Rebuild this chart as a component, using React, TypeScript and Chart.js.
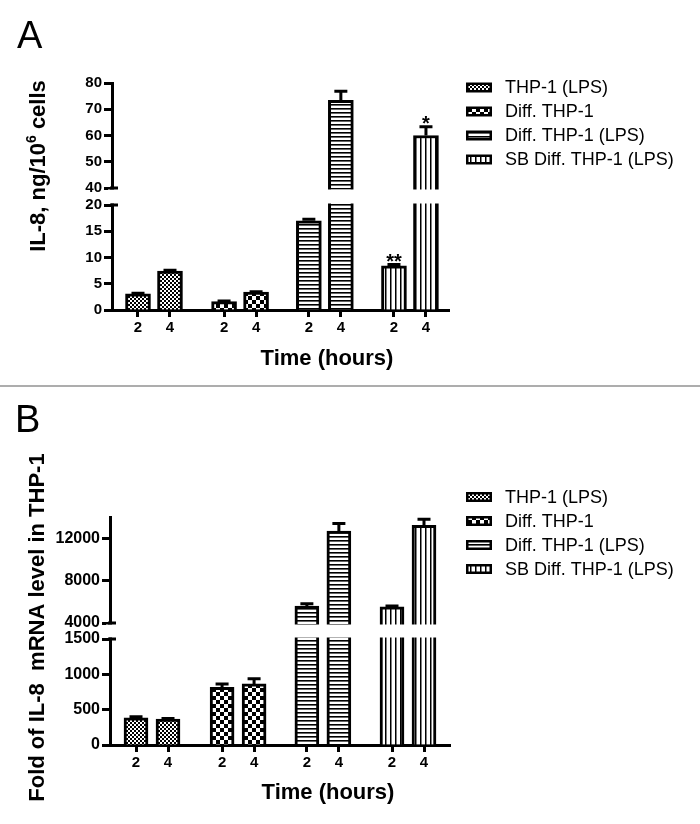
import React, { useEffect, useRef } from "react";
import { Chart, registerables, LinearScale } from "chart.js";

Chart.register(...registerables);

const FONT = "'Liberation Sans', Arial, Helvetica, sans-serif";

// ---------------- data ----------------
const SERIES_LABELS = ["THP-1 (LPS)", "Diff. THP-1", "Diff. THP-1 (LPS)", "SB Diff. THP-1 (LPS)"];
const TIME_LABELS = ["2", "4"];

// Panel A: IL-8, ng/10^6 cells (2 h, 4 h)
const A_THP1_LPS = [3.1, 7.4];
const A_DIFF = [1.6, 3.4];
const A_DIFF_LPS = [17.0, 73.4];
const A_SB_DIFF_LPS = [8.4, 60.0];
const A_ERR_THP1_LPS = [0.1, 0.15];
const A_ERR_DIFF = [0.1, 0.1];
const A_ERR_DIFF_LPS = [0.3, 3.5];
const A_ERR_SB_DIFF_LPS = [0.25, 3.3];
const A_SIG_SB_DIFF_LPS = ["**", "*"];
const A_Y_TICKS = [0, 5, 10, 15, 20, 40, 50, 60, 70, 80];

// Panel B: fold of IL-8 mRNA level in THP-1 (2 h, 4 h)
const B_THP1_LPS = [385, 366];
const B_DIFF = [816, 864];
const B_DIFF_LPS = [5600, 12660];
const B_SB_DIFF_LPS = [5530, 13220];
const B_ERR_THP1_LPS = [14, 8];
const B_ERR_DIFF = [47, 75];
const B_ERR_DIFF_LPS = [220, 720];
const B_ERR_SB_DIFF_LPS = [80, 560];
const B_Y_TICKS = [0, 500, 1000, 1500, 4000, 8000, 12000];

const NO_SIG = ["", ""];

// ---------------- layout constants ----------------
const GROUP_X = [0, 2.69, 5.34, 8];
const slotPos = (g: number, t: number) => GROUP_X[g] + t;

function makeBrokenScale(id: string, lowMax: number, highMin: number, gapPx: number): any {
  const Base: any = LinearScale;
  class BrokenScale extends Base {
    static id = id;
    segH(): number {
      const s: any = this;
      return (s.bottom - s.top - gapPx) / 2;
    }
    getPixelForValue(value: number): number {
      const s: any = this;
      const h = this.segH();
      const min = s.min;
      const max = s.max;
      const bottom = s.bottom;
      if (value <= lowMax) return bottom - ((value - min) / (lowMax - min)) * h;
      if (value >= highMin) return bottom - h - gapPx - ((value - highMin) / (max - highMin)) * h;
      return bottom - h - ((value - lowMax) / (highMin - lowMax)) * gapPx;
    }
    getValueForPixel(pixel: number): number {
      const s: any = this;
      const h = this.segH();
      const d = s.bottom - pixel;
      if (d <= h) return s.min + (d / h) * (lowMax - s.min);
      if (d >= h + gapPx) return highMin + ((d - h - gapPx) / h) * (s.max - highMin);
      return lowMax + ((d - h) / gapPx) * (highMin - lowMax);
    }
  }
  return BrokenScale;
}

Chart.register(makeBrokenScale("brokenA", 20, 40, 17), makeBrokenScale("brokenB", 1500, 4000, 16));

type Part = { text: string; size: number; dy: number };

type Panel = {
  letter: string;
  letterPos: [number, number];
  yTitle: Part[];
  yTitlePos: [number, number];
  xTitlePos: [number, number];
  legendTop: number;
  values: number[][];
  errors: number[][];
  sig: string[][];
  yTicks: number[];
  yMax: number;
  lowMax: number;
  highMin: number;
  scaleType: string;
  width: number;
  height: number;
  area: { left: number; right: number; top: number; bottom: number };
  xMin: number;
  xMax: number;
  barWidth: number;
  yTickSize: number;
};

const PANEL_A: Panel = {
  letter: "A",
  letterPos: [17, 48],
  yTitle: [
    { text: "IL-8, ng/10", size: 22, dy: 0 },
    { text: "6", size: 14, dy: -9 },
    { text: " cells", size: 22, dy: 0 },
  ],
  yTitlePos: [45, 166],
  xTitlePos: [327, 365],
  legendTop: 87.5,
  values: [A_THP1_LPS, A_DIFF, A_DIFF_LPS, A_SB_DIFF_LPS],
  errors: [A_ERR_THP1_LPS, A_ERR_DIFF, A_ERR_DIFF_LPS, A_ERR_SB_DIFF_LPS],
  sig: [NO_SIG, NO_SIG, NO_SIG, A_SIG_SB_DIFF_LPS],
  yTicks: A_Y_TICKS,
  yMax: 80,
  lowMax: 20,
  highMin: 40,
  scaleType: "brokenA",
  width: 700,
  height: 385,
  area: { left: 112, right: 449, top: 83, bottom: 310 },
  xMin: -0.8125,
  xMax: 9.72,
  barWidth: 25,
  yTickSize: 15,
};

const PANEL_B: Panel = {
  letter: "B",
  letterPos: [15, 44],
  yTitle: [{ text: "Fold of IL-8  mRNA level in THP-1", size: 22, dy: 0 }],
  yTitlePos: [44, 239.5],
  xTitlePos: [328, 411],
  legendTop: 109,
  values: [B_THP1_LPS, B_DIFF, B_DIFF_LPS, B_SB_DIFF_LPS],
  errors: [B_ERR_THP1_LPS, B_ERR_DIFF, B_ERR_DIFF_LPS, B_ERR_SB_DIFF_LPS],
  sig: [NO_SIG, NO_SIG, NO_SIG, NO_SIG],
  yTicks: B_Y_TICKS,
  yMax: 14000,
  lowMax: 1500,
  highMin: 4000,
  scaleType: "brokenB",
  width: 700,
  height: 436,
  area: { left: 110, right: 450, top: 129, bottom: 357 },
  xMin: -0.8125,
  xMax: 9.8125,
  barWidth: 24,
  yTickSize: 16,
};

function makePatterns(): CanvasPattern[] {
  const mk = (w: number, h: number, draw: (g: CanvasRenderingContext2D) => void) => {
    const c = document.createElement("canvas");
    c.width = w;
    c.height = h;
    const g = c.getContext("2d")!;
    g.fillStyle = "#fff";
    g.fillRect(0, 0, w, h);
    g.fillStyle = "#000";
    draw(g);
    return g.createPattern(c, "repeat")!;
  };
  const fine = mk(4, 4, (g) => {
    g.fillRect(0, 0, 2, 2);
    g.fillRect(2, 2, 2, 2);
  });
  const check = mk(8, 8, (g) => {
    g.fillRect(0, 0, 4, 4);
    g.fillRect(4, 4, 4, 4);
  });
  const hlines = mk(4, 4, (g) => {
    g.fillRect(0, 0, 4, 1.6);
  });
  const vlines = mk(5, 4, (g) => {
    g.fillRect(0, 0, 1.5, 4);
  });
  return [fine, check, hlines, vlines];
}

function buildChart(canvas: HTMLCanvasElement, cfg: Panel, pats: CanvasPattern[]) {
  const xTicks: number[] = [];
  const xLabels: string[] = [];
  GROUP_X.forEach((_, g) =>
    TIME_LABELS.forEach((lab, t) => {
      xTicks.push(slotPos(g, t));
      xLabels.push(lab);
    })
  );

  const datasets = SERIES_LABELS.map((label, si) => ({
    label,
    data: cfg.values[si].map((v, ti) => ({ x: slotPos(si, ti), y: v })),
    backgroundColor: pats[si],
    borderColor: "#000",
    borderWidth: 3,
    borderSkipped: "start",
    barThickness: cfg.barWidth,
    grouped: false,
  }));

  const decor = {
    id: "decor",
    afterDatasetsDraw(chart: any) {
      const ctx: CanvasRenderingContext2D = chart.ctx;
      const xs = chart.scales.x;
      const ys = chart.scales.y;
      const a = chart.chartArea;
      const yHi = ys.getPixelForValue(cfg.highMin);
      const yLo = ys.getPixelForValue(cfg.lowMax);
      ctx.save();
      // axis break
      ctx.fillStyle = "#fff";
      ctx.fillRect(a.left - 4, yHi + 1.5, a.right - a.left + 8, yLo - yHi - 3);
      ctx.strokeStyle = "#000";
      ctx.lineWidth = 3;
      [yHi, yLo].forEach((py) => {
        ctx.beginPath();
        ctx.moveTo(a.left - 2, py);
        ctx.lineTo(a.left + 6, py);
        ctx.stroke();
      });
      // error bars + significance marks
      cfg.values.forEach((vals, si) =>
        vals.forEach((v, ti) => {
          const px = xs.getPixelForValue(slotPos(si, ti));
          const pTop = ys.getPixelForValue(v);
          const pErr = ys.getPixelForValue(v + cfg.errors[si][ti]);
          ctx.beginPath();
          ctx.moveTo(px, pTop);
          ctx.lineTo(px, pErr);
          ctx.moveTo(px - 6.5, pErr);
          ctx.lineTo(px + 6.5, pErr);
          ctx.stroke();
          const s = cfg.sig[si][ti];
          if (s) {
            ctx.fillStyle = "#000";
            ctx.font = `bold 20px ${FONT}`;
            ctx.textAlign = "center";
            ctx.textBaseline = "alphabetic";
            ctx.fillText(s, px, pErr + 3);
          }
        })
      );
      ctx.restore();
    },
    afterDraw(chart: any) {
      const ctx: CanvasRenderingContext2D = chart.ctx;
      ctx.save();
      ctx.fillStyle = "#000";
      // panel letter
      ctx.font = `38px ${FONT}`;
      ctx.textAlign = "left";
      ctx.textBaseline = "alphabetic";
      ctx.fillText(cfg.letter, cfg.letterPos[0], cfg.letterPos[1]);
      // x title
      ctx.font = `bold 22px ${FONT}`;
      ctx.textAlign = "center";
      ctx.fillText("Time (hours)", cfg.xTitlePos[0], cfg.xTitlePos[1]);
      // y title (rotated)
      ctx.save();
      ctx.translate(cfg.yTitlePos[0], cfg.yTitlePos[1]);
      ctx.rotate(-Math.PI / 2);
      ctx.textAlign = "left";
      let total = 0;
      const widths = cfg.yTitle.map((p) => {
        ctx.font = `bold ${p.size}px ${FONT}`;
        const w = ctx.measureText(p.text).width;
        total += w;
        return w;
      });
      let cx = -total / 2;
      cfg.yTitle.forEach((p, i) => {
        ctx.font = `bold ${p.size}px ${FONT}`;
        ctx.fillText(p.text, cx, p.dy);
        cx += widths[i];
      });
      ctx.restore();
      // legend
      SERIES_LABELS.forEach((lab, i) => {
        const yc = cfg.legendTop + i * 24;
        ctx.fillStyle = "#000";
        ctx.fillRect(466, yc - 5, 26, 10);
        ctx.fillStyle = pats[i];
        ctx.fillRect(468.5, yc - 2.5, 21, 5);
        ctx.fillStyle = "#000";
        ctx.font = `18px ${FONT}`;
        ctx.textAlign = "left";
        ctx.textBaseline = "middle";
        ctx.fillText(lab, 505, yc + 1);
      });
      ctx.restore();
    },
  };

  const xTickFont = { family: FONT, size: 15, weight: "bold" as const };
  const yTickFont = { family: FONT, size: cfg.yTickSize, weight: "bold" as const };

  return new Chart(canvas, {
    type: "bar",
    data: { datasets: datasets as any },
    options: {
      responsive: false,
      animation: false,
      events: [],
      layout: {
        padding: {
          top: cfg.area.top,
          right: cfg.width - cfg.area.right,
          bottom: cfg.height - cfg.area.bottom - 40,
          left: 0,
        },
      },
      plugins: { legend: { display: false }, tooltip: { enabled: false }, title: { display: false } },
      scales: {
        x: {
          type: "linear",
          offset: false,
          min: cfg.xMin,
          max: cfg.xMax,
          bounds: "data",
          afterBuildTicks: (s: any) => {
            s.ticks = xTicks.map((v) => ({ value: v }));
          },
          afterFit: (s: any) => {
            s.height = 40;
          },
          ticks: {
            autoSkip: false,
            maxRotation: 0,
            color: "#000",
            font: xTickFont,
            padding: 2,
            callback: (_v: any, i: number) => xLabels[i],
          },
          grid: {
            offset: false,
            drawOnChartArea: false,
            drawTicks: true,
            tickLength: 7,
            tickWidth: 3,
            tickColor: "#000",
          },
          border: { display: true, width: 3, color: "#000" },
        },
        y: {
          type: cfg.scaleType as any,
          min: 0,
          max: cfg.yMax,
          bounds: "data",
          afterBuildTicks: (s: any) => {
            s.ticks = cfg.yTicks.map((v) => ({ value: v }));
          },
          afterFit: (s: any) => {
            s.width = cfg.area.left;
          },
          ticks: {
            color: "#000",
            font: yTickFont,
            padding: 2,
            callback: (v: any) => String(v),
          },
          grid: { drawOnChartArea: false, drawTicks: true, tickLength: 8, tickWidth: 3, tickColor: "#000" },
          border: { display: true, width: 3, color: "#000" },
        },
      } as any,
    },
    plugins: [decor as any],
  });
}

export default function App() {
  const refA = useRef<HTMLCanvasElement>(null);
  const refB = useRef<HTMLCanvasElement>(null);
  useEffect(() => {
    const pats = makePatterns();
    const cA = buildChart(refA.current!, PANEL_A, pats);
    const cB = buildChart(refB.current!, PANEL_B, pats);
    return () => {
      cA.destroy();
      cB.destroy();
    };
  }, []);
  return (
    <div style={{ position: "absolute", left: 0, top: 0, width: 700, height: 824, background: "#fff" }}>
      <canvas ref={refA} width={700} height={385} style={{ position: "absolute", left: 0, top: 0 }} />
      <div style={{ position: "absolute", left: 0, top: 385, width: 700, height: 2, background: "#adadad" }} />
      <canvas ref={refB} width={700} height={436} style={{ position: "absolute", left: 0, top: 388 }} />
    </div>
  );
}
